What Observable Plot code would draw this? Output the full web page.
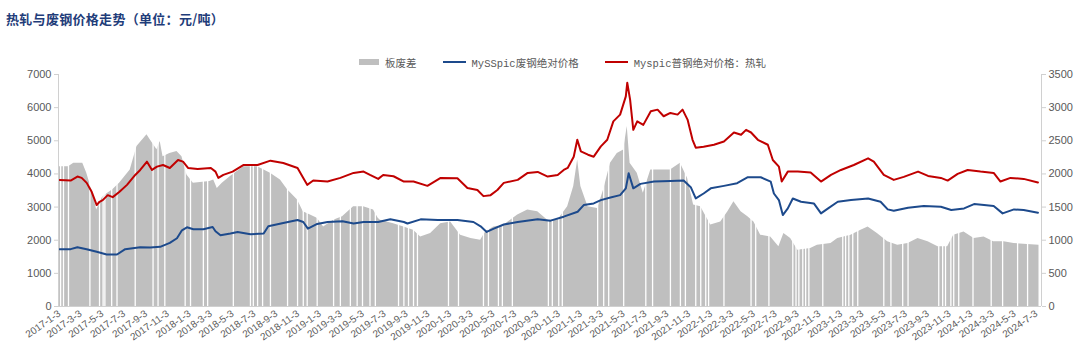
<!DOCTYPE html>
<html>
<head>
<meta charset="utf-8">
<script src="https://cdn.jsdelivr.net/npm/d3@7"></script>
<script src="https://cdn.jsdelivr.net/npm/@observablehq/plot@0.6"></script>
<style>
  html, body { margin: 0; padding: 0; background: #fff; }
  #wrap { position: relative; width: 1080px; height: 364px; overflow: hidden; }
  #title { position: absolute; left: 6px; top: 9px; font: bold 13px "Noto Sans CJK SC", sans-serif; color: #1f3d7a; letter-spacing: 0.3px; }
  #legend { position: absolute; left: 0; top: 52px; width: 1080px; height: 20px; display: flex; justify-content: center; align-items: center; gap: 0; font: 10.5px "Liberation Mono", "Noto Sans CJK SC", monospace; color: #595959; padding-left: 45px; box-sizing: border-box; }
  .item { display: flex; align-items: center; margin: 0 13px; }
  .sw { display: inline-block; margin-right: 6px; }
  #chart { position: absolute; left: 0; top: 64px; }
  #chart svg text { fill: #595959; }
</style>
</head>
<body>
<div id="wrap">
  <div id="title">热轧与废钢价格走势（单位：元/吨）</div>
  <div id="legend"></div>
  <div id="chart"></div>
</div>
<script>
// ---------- DATA ----------
const seriesNames = ["板废差", "MySSpic废钢绝对价格", "Myspic普钢绝对价格：热轧"];
const seriesColors = ["#bfbfbf", "#1d4a8c", "#c00000"];

// 板废差 (right axis, 元/吨)
const spreadData = [
  ["2017-01-03",2110],["2017-01-28",2110],["2017-02-12",2160],["2017-03-09",2160],["2017-03-20",2015],
  ["2017-04-06",1710],["2017-04-17",1455],["2017-05-04",1655],["2017-06-01",1760],["2017-06-20",1860],
  ["2017-07-20",2060],["2017-08-08",2415],["2017-09-05",2590],["2017-09-14",2515],["2017-10-03",2365],
  ["2017-10-12",2490],["2017-10-20",2260],["2017-11-08",2310],["2017-11-28",2340],["2017-12-12",2260],
  ["2017-12-26",1985],["2018-01-13",1860],["2018-02-28",1885],["2018-03-11",1910],["2018-03-21",1780],
  ["2018-04-04",1860],["2018-04-27",1960],["2018-06-03",2110],["2018-07-12",2110],["2018-08-17",2010],
  ["2018-09-14",1910],["2018-10-04",1760],["2018-11-01",1605],["2018-11-17",1430],["2018-12-07",1380],
  ["2018-12-26",1330],["2019-01-13",1200],["2019-02-10",1300],["2019-03-07",1355],["2019-04-07",1505],
  ["2019-05-05",1505],["2019-06-02",1455],["2019-06-15",1330],["2019-06-21",1300],["2019-07-28",1250],
  ["2019-08-26",1200],["2019-09-22",1150],["2019-10-12",1050],["2019-11-09",1100],["2019-12-07",1250],
  ["2020-01-04",1275],["2020-02-01",1075],["2020-03-01",1025],["2020-03-28",1000],["2020-04-11",1125],
  ["2020-05-04",1200],["2020-06-01",1225],["2020-07-10",1380],["2020-08-07",1455],["2020-09-04",1430],
  ["2020-10-02",1300],["2020-10-30",1300],["2020-11-27",1505],["2020-12-14",1810],["2020-12-25",2210],
  ["2021-01-03",1810],["2021-01-23",1505],["2021-02-19",1480],["2021-03-08",1760],["2021-03-27",2160],
  ["2021-04-15",2310],["2021-05-03",2360],["2021-05-13",2715],["2021-05-21",2160],["2021-06-10",2010],
  ["2021-06-27",1710],["2021-07-18",2060],["2021-08-14",2060],["2021-09-11",2060],["2021-10-09",2160],
  ["2021-10-29",1935],["2021-11-15",1530],["2021-12-05",1505],["2022-01-02",1230],["2022-01-30",1275],
  ["2022-02-19",1430],["2022-03-08",1580],["2022-03-28",1430],["2022-04-16",1355],["2022-05-03",1275],
  ["2022-05-22",1075],["2022-06-19",1050],["2022-07-12",900],["2022-07-26",1100],["2022-08-14",1025],
  ["2022-09-03",850],["2022-10-09",875],["2022-10-28",925],["2022-12-05",950],["2022-12-24",1025],
  ["2023-01-30",1075],["2023-02-27",1150],["2023-03-19",1200],["2023-04-14",1100],["2023-05-13",975],
  ["2023-06-10",925],["2023-07-09",950],["2023-08-06",1025],["2023-09-03",975],["2023-10-01",900],
  ["2023-10-28",900],["2023-11-14",1075],["2023-12-13",1125],["2024-01-10",1025],["2024-02-07",1050],
  ["2024-03-05",975],["2024-04-03",975],["2024-05-01",950],["2024-05-28",940],["2024-07-10",925]
];

// dates with no 板废差 value (white gaps in the bars)
const spreadGapDates = [
  "2017-01-06","2017-01-14","2017-01-28","2017-03-29","2017-04-25","2017-05-05","2017-05-10","2017-05-29",
  "2017-06-13","2017-08-03","2017-09-22","2017-10-06","2017-10-25","2017-12-21","2018-01-05","2018-02-10",
  "2018-02-22","2018-05-05","2018-06-22","2018-06-30","2018-07-12","2018-07-26","2018-08-17","2018-10-04",
  "2018-11-01","2018-11-17","2018-11-28","2018-12-26","2019-02-10","2019-03-01","2019-03-29","2019-04-17",
  "2019-05-02","2019-05-23","2019-06-07","2019-08-11","2019-08-26","2019-09-08","2019-09-22","2019-10-03",
  "2019-12-29","2020-01-26","2020-04-05","2020-04-19","2020-05-17","2020-05-28","2020-06-25","2020-10-04",
  "2020-10-15","2020-11-02","2020-11-12","2021-02-19","2021-03-08","2021-03-22","2021-05-03","2021-07-04",
  "2021-07-23","2021-09-11","2021-10-09","2021-10-23","2021-11-21","2021-12-05","2021-12-19","2021-12-27",
  "2022-02-08","2022-04-25","2022-05-08","2022-06-14","2022-08-20","2022-08-29","2022-09-06","2022-09-17",
  "2022-09-25","2022-10-04","2022-11-12","2023-01-07","2023-01-15","2023-01-24","2023-02-04","2023-02-18",
  "2023-05-02","2023-05-22","2023-06-24","2023-07-09","2023-10-03","2023-10-14","2023-10-22","2023-11-06",
  "2023-11-14","2023-11-28","2024-01-07","2024-02-27","2024-03-30","2024-05-11","2024-06-08"
];

// MySSpic废钢绝对价格 (left axis)
const scrapData = [
  ["2017-01-03",1730],["2017-02-03",1730],["2017-02-22",1790],["2017-03-20",1730],["2017-04-17",1650],
  ["2017-05-15",1570],["2017-06-13",1570],["2017-07-06",1730],["2017-08-17",1790],["2017-09-14",1780],
  ["2017-10-12",1800],["2017-11-08",1920],["2017-11-28",2060],["2017-12-12",2300],["2017-12-26",2390],
  ["2018-01-13",2330],["2018-02-10",2330],["2018-03-08",2400],["2018-03-16",2270],["2018-03-30",2150],
  ["2018-04-27",2200],["2018-05-17",2250],["2018-06-22",2180],["2018-07-29",2200],["2018-08-11",2420],
  ["2018-09-22",2520],["2018-11-01",2610],["2018-11-17",2550],["2018-11-30",2350],["2018-12-26",2490],
  ["2019-01-24",2550],["2019-03-07",2575],["2019-04-07",2505],["2019-05-05",2550],["2019-06-15",2550],
  ["2019-07-19",2630],["2019-08-26",2550],["2019-09-05",2505],["2019-10-12",2630],["2019-11-29",2610],
  ["2020-01-23",2610],["2020-03-08",2550],["2020-03-28",2420],["2020-04-14",2250],["2020-05-04",2350],
  ["2020-06-01",2475],["2020-07-10",2550],["2020-09-04",2630],["2020-10-10",2590],["2020-11-16",2710],
  ["2020-12-25",2860],["2021-01-11",3060],["2021-02-08",3110],["2021-02-28",3210],["2021-03-27",3290],
  ["2021-04-23",3360],["2021-05-09",3565],["2021-05-17",4020],["2021-05-30",3565],["2021-06-19",3700],
  ["2021-07-27",3770],["2021-09-11",3790],["2021-10-18",3800],["2021-11-07",3600],["2021-11-21",3260],
  ["2021-12-13",3410],["2022-01-02",3565],["2022-02-08",3640],["2022-03-17",3720],["2022-04-16",3900],
  ["2022-05-22",3900],["2022-06-19",3770],["2022-06-28",3410],["2022-07-12",3210],["2022-07-23",2760],
  ["2022-08-06",2960],["2022-08-20",3260],["2022-09-12",3160],["2022-10-18",3110],["2022-11-07",2810],
  ["2022-11-27",2960],["2022-12-24",3160],["2023-01-30",3210],["2023-03-19",3260],["2023-04-23",3160],
  ["2023-05-13",2930],["2023-05-30",2890],["2023-07-09",2980],["2023-08-22",3030],["2023-10-09",3010],
  ["2023-11-07",2910],["2023-12-13",2960],["2024-01-10",3090],["2024-02-07",3060],["2024-03-05",3030],
  ["2024-03-30",2810],["2024-05-01",2930],["2024-05-28",2910],["2024-07-07",2830]
];

// Myspic普钢绝对价格：热轧 (left axis)
const hrcData = [
  ["2017-01-03",3820],["2017-02-03",3800],["2017-02-22",3920],["2017-03-06",3880],["2017-03-20",3730],
  ["2017-04-03",3460],["2017-04-17",3060],["2017-04-25",3160],["2017-05-04",3210],["2017-05-18",3360],
  ["2017-06-01",3300],["2017-06-20",3460],["2017-07-11",3670],["2017-08-03",3970],["2017-08-17",4120],
  ["2017-09-05",4370],["2017-09-19",4120],["2017-10-03",4220],["2017-10-20",4270],["2017-11-08",4180],
  ["2017-12-01",4420],["2017-12-15",4370],["2017-12-29",4180],["2018-01-25",4150],["2018-03-03",4180],
  ["2018-03-16",4070],["2018-03-24",3880],["2018-04-07",3970],["2018-05-03",4070],["2018-06-03",4270],
  ["2018-07-12",4270],["2018-08-17",4400],["2018-09-22",4330],["2018-11-01",4180],["2018-11-17",3880],
  ["2018-11-28",3670],["2018-12-15",3800],["2019-01-24",3770],["2019-03-01",3880],["2019-04-07",4030],
  ["2019-05-05",4070],["2019-05-23",3970],["2019-06-15",3850],["2019-06-29",3970],["2019-07-28",3930],
  ["2019-08-26",3770],["2019-09-22",3770],["2019-10-31",3640],["2019-12-07",3880],["2020-01-23",3870],
  ["2020-02-20",3575],["2020-03-19",3515],["2020-04-05",3330],["2020-04-25",3360],["2020-05-14",3515],
  ["2020-06-01",3730],["2020-07-10",3820],["2020-08-07",4030],["2020-09-04",4060],["2020-10-02",3920],
  ["2020-10-30",3970],["2020-11-16",4120],["2020-11-27",4180],["2020-12-14",4520],["2020-12-24",5030],
  ["2021-01-03",4680],["2021-01-23",4580],["2021-02-08",4520],["2021-02-28",4830],["2021-03-18",5030],
  ["2021-04-04",5585],["2021-04-23",5790],["2021-05-09",6340],["2021-05-13",6750],["2021-05-21",6240],
  ["2021-05-30",5330],["2021-06-10",5585],["2021-06-27",5480],["2021-07-18",5890],["2021-08-06",5940],
  ["2021-08-23",5740],["2021-09-11",5840],["2021-10-01",5790],["2021-10-15",5940],["2021-10-29",5640],
  ["2021-11-12",5030],["2021-11-21",4790],["2021-12-13",4820],["2022-01-11",4880],["2022-02-08",4980],
  ["2022-03-08",5250],["2022-03-28",5180],["2022-04-11",5330],["2022-04-25",5250],["2022-05-14",5030],
  ["2022-06-11",4880],["2022-06-25",4420],["2022-07-12",4220],["2022-07-20",3770],["2022-08-06",4070],
  ["2022-09-03",4070],["2022-10-09",4040],["2022-11-07",3770],["2022-12-05",3970],["2023-01-02",4120],
  ["2023-02-07",4270],["2023-03-19",4470],["2023-04-04",4370],["2023-05-02",3970],["2023-05-30",3820],
  ["2023-06-27",3910],["2023-08-06",4070],["2023-09-03",3940],["2023-10-09",3880],["2023-10-28",3800],
  ["2023-11-25",4000],["2023-12-23",4120],["2024-01-28",4070],["2024-03-05",4030],["2024-03-24",3770],
  ["2024-04-21",3880],["2024-05-28",3850],["2024-07-07",3740]
];

const xTickLabels = [
  "2017-1-3","2017-3-3","2017-5-3","2017-7-3","2017-9-3","2017-11-3",
  "2018-1-3","2018-3-3","2018-5-3","2018-7-3","2018-9-3","2018-11-3",
  "2019-1-3","2019-3-3","2019-5-3","2019-7-3","2019-9-3","2019-11-3",
  "2020-1-3","2020-3-3","2020-5-3","2020-7-3","2020-9-3","2020-11-3",
  "2021-1-3","2021-3-3","2021-5-3","2021-7-3","2021-9-3","2021-11-3",
  "2022-1-3","2022-3-3","2022-5-3","2022-7-3","2022-9-3","2022-11-3",
  "2023-1-3","2023-3-3","2023-5-3","2023-7-3","2023-9-3","2023-11-3",
  "2024-1-3","2024-3-3","2024-5-3","2024-7-3"
];
const leftTicks = [0, 1000, 2000, 3000, 4000, 5000, 6000, 7000];
const rightTickLabels = [0, 500, 1000, 1500, 2000, 2500, 3000, 3500];

// ---------- BUILD ----------
const parse = s => { const [y, m, d] = s.split("-").map(Number); return new Date(Date.UTC(y, m - 1, d)); };
const fmt = d => `${d.getUTCFullYear()}-${d.getUTCMonth() + 1}-${d.getUTCDate()}`;
const toRows = arr => arr.map(([d, v]) => ({date: parse(d), value: v}));
const spread = toRows(spreadData);
const scrap = toRows(scrapData);
const hrc = toRows(hrcData);
const gaps = spreadGapDates.map(parse);
const xTicks = xTickLabels.map(parse);
const ratio = 7000 / 3500; // right axis -> left axis
const xDomain = [parse("2016-12-31"), parse("2024-07-17")];

const gray = "#bfbfbf";
const plot = Plot.plot({
  width: 1080,
  height: 300,
  marginTop: 10,
  marginBottom: 58,
  marginLeft: 58,
  marginRight: 39,
  style: {fontFamily: "'Liberation Sans', Arial, sans-serif", fontSize: "11px", color: "#595959", background: "transparent"},
  x: {type: "utc", domain: xDomain},
  y: {domain: [0, 7000]},
  marks: [
    Plot.areaY(spread, {x: "date", y: d => d.value * ratio, fill: seriesColors[0], curve: "linear"}),
    Plot.ruleX(gaps, {x: d => d, y1: 0, y2: 7000, stroke: "#fff", strokeWidth: 1.3}),
    Plot.lineY(scrap, {x: "date", y: "value", stroke: seriesColors[1], strokeWidth: 2}),
    Plot.lineY(hrc, {x: "date", y: "value", stroke: seriesColors[2], strokeWidth: 2}),
    Plot.ruleY([0], {stroke: "#d0d0d0"}),
    Plot.ruleX([xDomain[0]], {stroke: "#d0d0d0"}),
    Plot.ruleX([xDomain[1]], {stroke: "#d0d0d0"}),
    Plot.axisY({anchor: "left", ticks: leftTicks, tickSize: 4, tickPadding: 3, stroke: "#d0d0d0", tickFormat: d => `${d}`, label: null}),
    Plot.axisY({anchor: "right", ticks: rightTickLabels.map(v => v * ratio), tickSize: 4, tickPadding: 3, stroke: "#d0d0d0", tickFormat: d => `${d / ratio}`, label: null}),
    Plot.axisX({ticks: xTicks, tickFormat: fmt, tickRotate: -35, tickSize: 0, tickPadding: 6, fontSize: 10, label: null})
  ]
});
document.getElementById("chart").appendChild(plot);

// legend
const legend = document.getElementById("legend");
seriesNames.forEach((name, i) => {
  const item = document.createElement("div");
  item.className = "item";
  const sw = document.createElement("span");
  sw.className = "sw";
  if (i === 0) { sw.style.width = "20px"; sw.style.height = "6px"; sw.style.background = seriesColors[0]; }
  else { sw.style.width = "23px"; sw.style.height = "2px"; sw.style.background = seriesColors[i]; }
  item.appendChild(sw);
  const t = document.createElement("span");
  t.textContent = name;
  item.appendChild(t);
  legend.appendChild(item);
});
</script>
</body>
</html>
